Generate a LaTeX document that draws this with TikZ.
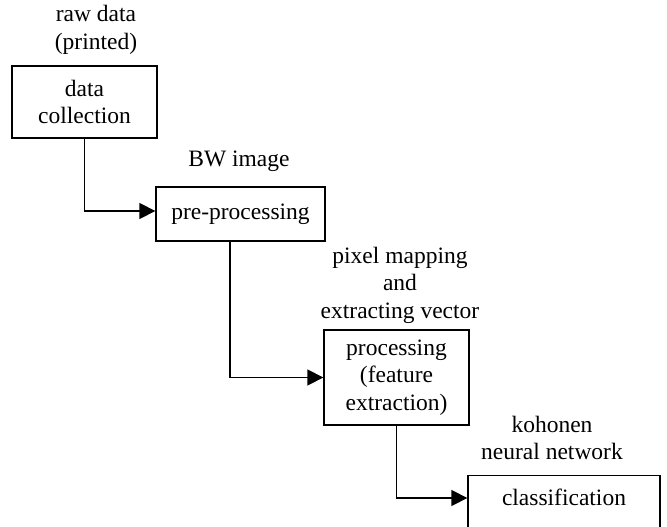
\documentclass[tikz,border=0pt]{standalone}
\usepackage{fontspec}
\setmainfont{Liberation Serif}
\usetikzlibrary{arrows.meta}
\begin{document}
\begin{tikzpicture}[x=1pt,y=-1pt,
  every node/.style={font=\fontsize{23.5}{27.5}\selectfont, align=center, inner sep=0pt},
  stage/.style={draw, line width=1.3pt},
  caption/.style={},
  flow/.style={line width=1.3pt, -{Triangle[length=16pt,width=16pt]}}]
  \useasboundingbox (0,0) rectangle (667,527);
  \clip (0,0) rectangle (667,527);

  % processing stages
  \node[stage, minimum width=145pt, minimum height=72pt] (b1) at (84.5,102) {data\\collection};
  \node[stage, minimum width=169pt, minimum height=54pt] (b2) at (240.5,214) {pre-processing};
  \node[stage, minimum width=145pt, minimum height=95pt] (b3) at (396.5,377.5) {processing\\(feature\\extraction)};
  \node[stage, minimum width=192pt, minimum height=75pt, anchor=north] (b4) at (564,475) {};
  \node (t4) at (564,497) {classification};

  % captions above the stages
  \node[caption] (c1) at (96,30) {raw data\\(printed)};
  \node[caption] (c2) at (239,161) {BW image};
  \node[caption] (c3) at (400,285) {pixel mapping\\and\\extracting vector};
  \node[caption] (c4) at (552,438) {kohonen\\neural network};

  % connectors
  \draw[flow] (b1.south) |- ([yshift=3pt]b2.west);
  \draw[flow] ([xshift=-10.5pt]b2.south) |- (b3.west);
  \draw[flow] (b3.south) |- ([yshift=-23pt]b4.north west);
\end{tikzpicture}
\end{document}
